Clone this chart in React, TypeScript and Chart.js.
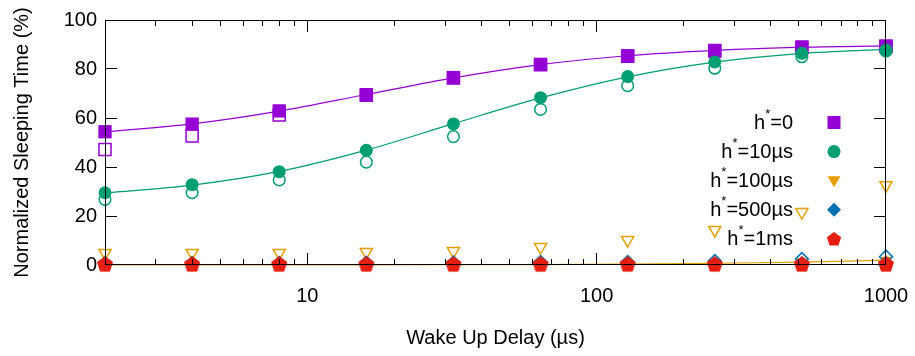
import React, { useEffect, useRef } from "react";
import { Chart, registerables } from "chart.js";

Chart.register(...registerables);

// ---------- data ----------
const wakeUpDelays = [2, 4, 8, 16, 32, 64, 128, 256, 512, 1000];

const h0Filled = [54.4, 57.5, 62.9, 69.5, 76.5, 81.9, 85.4, 87.6, 89.0, 89.4];
const h0Open = [47.1, 52.7, 61.2, 69.3, 76.3, 81.7, 85.2, 87.4, 88.8, 89.2];
const h0Fit = [54.4, 57.6, 62.8, 69.6, 76.4, 81.8, 85.4, 87.6, 88.9, 89.4];

const h10Filled = [29.5, 32.8, 38.1, 46.8, 57.6, 68.3, 76.9, 82.9, 86.4, 87.8];
const h10Open = [26.8, 29.5, 34.7, 42.0, 52.4, 63.5, 73.2, 80.3, 85.0, 87.3];
const h10Fit = [29.4, 32.6, 38.2, 46.9, 57.7, 68.2, 76.8, 82.8, 86.4, 88.0];

const h100Filled = [0.3, 0.3, 0.3, 0.3, 0.3, 0.3, 0.4, 0.6, 1.1, 1.8];
const h100Open = [4.9, 4.9, 4.9, 5.3, 5.7, 7.3, 10.2, 14.3, 21.6, 32.6];
const h100Fit = [0.05, 0.05, 0.05, 0.07, 0.1, 0.17, 0.35, 0.7, 1.2, 2.0];

const h500Filled = [0.5, 0.5, 0.5, 0.5, 0.5, 0.5, 0.6, 0.7, 0.8, 1.0];
const h500Open = [0.8, 0.8, 0.8, 0.9, 1.0, 1.2, 1.2, 1.6, 2.4, 3.4];

const h1msFilled = [0.3, 0.3, 0.3, 0.3, 0.3, 0.3, 0.3, 0.3, 0.3, 0.3];
const h1msOpen = [0.4, 0.4, 0.4, 0.4, 0.4, 0.4, 0.4, 0.4, 0.4, 0.4];

const legendValues = ["0", "10µs", "100µs", "500µs", "1ms"];
const xTickValues = [10, 100, 1000];
const yTickValues = [0, 20, 40, 60, 80, 100];

const xTitle = "Wake Up Delay (µs)";
const yTitle = "Normalized Sleeping Time (%)";

// ---------- styles ----------
const PURPLE = "#9400D3";
const GREEN = "#009E73";
const ORANGE = "#E69F00";
const BLUE = "#0072B2";
const RED = "#E51E10";
const FONT = "'Liberation Sans', Arial, Helvetica, sans-serif";

function makePentagon(color: string, filled: boolean) {
  const r = 7.5;
  const size = 20;
  const c = document.createElement("canvas");
  c.width = size;
  c.height = size;
  const g = c.getContext("2d");
  if (g) {
    g.beginPath();
    for (let k = 0; k < 5; k++) {
      const ang = -Math.PI / 2 + (k * 2 * Math.PI) / 5;
      const px = size / 2 + r * Math.cos(ang);
      const py = size / 2 + 0.6 + r * Math.sin(ang);
      if (k === 0) g.moveTo(px, py);
      else g.lineTo(px, py);
    }
    g.closePath();
    if (filled) {
      g.fillStyle = color;
      g.fill();
    } else {
      g.strokeStyle = color;
      g.lineWidth = 1.5;
      g.stroke();
    }
  }
  return c;
}

function drawMarker(ctx: any, kind: string, x: number, y: number, color: string) {
  ctx.save();
  ctx.fillStyle = color;
  ctx.beginPath();
  if (kind === "square") {
    ctx.rect(x - 6.5, y - 6.5, 13, 13);
  } else if (kind === "circle") {
    ctx.arc(x, y, 6.5, 0, Math.PI * 2);
  } else if (kind === "tri") {
    ctx.moveTo(x - 6.5, y - 4.5);
    ctx.lineTo(x + 6.5, y - 4.5);
    ctx.lineTo(x, y + 6.5);
    ctx.closePath();
  } else if (kind === "diamond") {
    ctx.moveTo(x, y - 7);
    ctx.lineTo(x + 7, y);
    ctx.lineTo(x, y + 7);
    ctx.lineTo(x - 7, y);
    ctx.closePath();
  } else {
    for (let k = 0; k < 5; k++) {
      const ang = -Math.PI / 2 + (k * 2 * Math.PI) / 5;
      const px = x + 7.5 * Math.cos(ang);
      const py = y + 0.6 + 7.5 * Math.sin(ang);
      if (k === 0) ctx.moveTo(px, py);
      else ctx.lineTo(px, py);
    }
    ctx.closePath();
  }
  ctx.fill();
  ctx.restore();
}

const pts = (ys: number[]) => wakeUpDelays.map((x, i) => ({ x, y: ys[i] }));

export default function App() {
  const ref = useRef<HTMLCanvasElement | null>(null);

  useEffect(() => {
    if (!ref.current) return;
    const pentFilled = makePentagon(RED, true);
    const pentOpen = makePentagon(RED, false);

    const gnuFrame = {
      id: "gnuFrame",
      afterDatasetsDraw(chart: any) {
        const ctx = chart.ctx;
        const area = chart.chartArea;
        const sx = chart.scales.x;
        const sy = chart.scales.y;
        const left = Math.floor(area.left);
        const top = Math.floor(area.top);
        const right = Math.floor(area.right);
        const bottom = Math.floor(area.bottom);

        // frame and inward ticks, as filled thin rectangles
        ctx.save();
        ctx.fillStyle = "#000";
        ctx.beginPath();
        ctx.rect(left, top, right - left, 1);
        ctx.rect(left, bottom - 1, right - left, 1);
        ctx.rect(left, top, 1, bottom - top);
        ctx.rect(right - 1, top, 1, bottom - top);
        for (const v of yTickValues) {
          const py = Math.min(Math.max(Math.floor(sy.getPixelForValue(v)), top), bottom - 1);
          ctx.rect(left, py, 12, 1);
          ctx.rect(right - 12, py, 12, 1);
        }
        for (let base = 1; base <= 1000; base *= 10) {
          for (let d = 1; d <= 9; d++) {
            const v = d * base;
            if (v < 2 || v > 1000) continue;
            const len = d === 1 ? 12 : 6;
            const px = Math.min(Math.floor(sx.getPixelForValue(v)), right - 1);
            ctx.rect(px, bottom - len, 1, len);
            ctx.rect(px, top, 1, len);
          }
        }
        ctx.fill();
        ctx.restore();

        // legend
        const kinds = ["square", "circle", "tri", "diamond", "pent"];
        const colors = [PURPLE, GREEN, ORANGE, BLUE, RED];
        const textRight = 793;
        const markerX = 834;
        ctx.save();
        ctx.fillStyle = "#000";
        ctx.textBaseline = "middle";
        ctx.textAlign = "left";
        for (let i = 0; i < legendValues.length; i++) {
          const y = 122.5 + i * 29.1;
          ctx.font = `20px ${FONT}`;
          const rest = "=" + legendValues[i];
          const wRest = ctx.measureText(rest).width;
          const wH = ctx.measureText("h").width;
          ctx.font = `13px ${FONT}`;
          const wStar = ctx.measureText("*").width;
          const startX = textRight - wRest - wStar - wH;
          ctx.font = `20px ${FONT}`;
          ctx.fillText("h", startX, y + 1);
          ctx.fillText(rest, startX + wH + wStar, y + 1);
          ctx.font = `13px ${FONT}`;
          ctx.fillText("*", startX + wH, y - 8);
          drawMarker(ctx, kinds[i], markerX, y, colors[i]);
        }
        ctx.restore();
      },
    };

    const fit = (data: number[], color: string) => ({
      data: pts(data),
      showLine: true,
      borderColor: color,
      borderWidth: 1.2,
      pointRadius: 0,
      cubicInterpolationMode: "monotone",
      fill: false,
      clip: false,
      order: 20,
    });
    const marks = (data: number[], style: any, color: string, filled: boolean, radius: number, order: number, rotation = 0) => ({
      data: pts(data),
      showLine: false,
      pointStyle: style,
      pointRotation: rotation,
      pointRadius: radius,
      pointBackgroundColor: filled ? color : "rgba(0,0,0,0)",
      pointBorderColor: color,
      pointBorderWidth: filled ? 0 : 1.5,
      clip: false,
      order,
    });

    const chart = new Chart(ref.current, {
      type: "scatter",
      data: {
        datasets: [
          fit(h0Fit, PURPLE),
          fit(h10Fit, GREEN),
          fit(h100Fit, ORANGE),
          marks(h0Open, "rect", PURPLE, false, 8.5, 15),
          marks(h0Filled, "rect", PURPLE, true, 9.4, 14),
          marks(h10Filled, "circle", GREEN, true, 6.5, 13),
          marks(h10Open, "circle", GREEN, false, 5.8, 12),
          marks(h100Filled, "triangle", ORANGE, true, 7.5, 11, 180),
          marks(h100Open, "triangle", ORANGE, false, 7, 10, 180),
          marks(h500Open, "rectRot", BLUE, false, 6.5, 9),
          marks(h500Filled, "rectRot", BLUE, true, 7, 8),
          marks(h1msOpen, pentOpen, RED, false, 7, 7),
          marks(h1msFilled, pentFilled, RED, true, 7, 6),
        ],
      } as any,
      options: {
        animation: false,
        responsive: false,
        layout: { padding: { top: 20, right: 29, left: 0, bottom: 0 } },
        plugins: { legend: { display: false }, tooltip: { enabled: false } },
        scales: {
          x: {
            type: "logarithmic",
            min: 2,
            max: 1000,
            grid: { display: false, drawTicks: false },
            border: { display: false },
            afterBuildTicks: (s: any) => {
              s.ticks = xTickValues.map((v) => ({ value: v }));
            },
            afterFit: (s: any) => {
              s.height = 91;
              s.paddingRight = 0;
              s.paddingLeft = 0;
            },
            ticks: {
              autoSkip: false,
              maxRotation: 0,
              padding: 19,
              color: "#000",
              font: { size: 20, family: FONT },
              callback: (v: any) => String(v),
            },
            title: {
              display: true,
              text: xTitle,
              color: "#000",
              font: { size: 20, family: FONT },
              padding: { top: 0, bottom: 6 },
            },
          },
          y: {
            type: "linear",
            min: 0,
            max: 100,
            grid: { display: false, drawTicks: false },
            border: { display: false },
            afterFit: (s: any) => {
              s.width = 105;
              s.paddingTop = 0;
              s.paddingBottom = 0;
            },
            ticks: {
              stepSize: 20,
              padding: 8,
              color: "#000",
              font: { size: 20, family: FONT },
            },
            title: {
              display: true,
              text: yTitle,
              color: "#000",
              font: { size: 20, family: FONT },
              padding: { top: 10, bottom: 0 },
            },
          },
        },
      } as any,
      plugins: [gnuFrame as any],
    });
    return () => chart.destroy();
  }, []);

  return (
    <div style={{ position: "absolute", left: 0, top: 0, width: 915, height: 356, background: "#fff" }}>
      <canvas ref={ref} width={915} height={356} style={{ display: "block" }} />
    </div>
  );
}
